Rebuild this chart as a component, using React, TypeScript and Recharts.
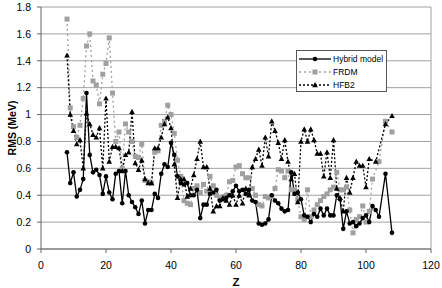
import React from "react";
import {
  LineChart,
  Line,
  XAxis,
  YAxis,
  CartesianGrid,
  ReferenceLine,
} from "recharts";

// Proton number Z
const zValues = [
  8, 9, 10, 11, 12, 13, 14, 15, 16, 17, 18, 19, 20, 21, 22, 23, 24, 25, 26, 27,
  28, 29, 30, 31, 32, 33, 34, 35, 36, 37, 38, 39, 40, 41, 42, 43, 44, 45, 46, 47,
  48, 49, 50, 51, 52, 53, 54, 55, 56, 57, 58, 59, 60, 61, 62, 63, 64, 65, 66, 67,
  68, 69, 70, 71, 72, 73, 74, 75, 76, 77, 78, 79, 80, 81, 82, 83, 84, 85, 86, 87,
  88, 89, 90, 91, 92, 93, 94, 95, 96, 97, 98, 99, 100, 101, 102, 103, 104, 105, 106, 107,
  108,
];

// RMS (MeV) per model
const hybridRms = [
  0.72, 0.49, 0.57, 0.39, 0.44, 0.52, 1.16, 0.7, 0.57, 0.59, 0.55, 0.41, 0.54, 0.42, 0.37, 0.56, 0.58, 0.34, 0.58, 0.4,
  0.35, 0.31, 0.26, 0.36, 0.19, 0.29, 0.29, 0.41, 0.38, 0.56, 0.63, 0.61, 0.79, 0.7, 0.54, 0.49, 0.48, 0.49, 0.4, 0.4,
  0.44, 0.23, 0.33, 0.33, 0.41, 0.42, 0.44, 0.36, 0.37, 0.38, 0.4, 0.43, 0.47, 0.43, 0.44, 0.41, 0.44, 0.36, 0.35, 0.19,
  0.18, 0.19, 0.22, 0.4, 0.36, 0.34, 0.3, 0.28, 0.29, 0.57, 0.41, 0.42, 0.37, 0.25, 0.24, 0.2, 0.26, 0.24, 0.3, 0.25,
  0.3, 0.25, 0.25, 0.4, 0.37, 0.15, 0.28, 0.19, 0.2, 0.17, 0.19, 0.23, 0.25, 0.2, 0.32, 0.29, 0.24, null, 0.56, null,
  0.12,
];

const frdmRms = [
  1.71, 1.05, 0.91, 0.83, 0.92, 1.12, 1.51, 1.6, 1.25, 1.22, 1.08, 1.3, 1.38, 1.57, 1.16, 0.8, 0.87, 0.6, 0.93, 0.87,
  0.8, 0.69, 0.68, 0.78, 0.51, 0.5, 0.49, 0.72, 0.73, 0.92, 0.95, 1.07, 1.0, 0.86, 0.66, 0.54, 0.36, 0.34, 0.33, 0.45,
  0.47, 0.42, 0.48, 0.43, 0.54, 0.47, 0.4, 0.38, 0.39, 0.4, 0.5, 0.51, 0.61, 0.62, 0.56, 0.53, 0.53, 0.45, 0.4, 0.33,
  0.32, 0.39, 0.38, 0.39, 0.45, 0.59, 0.58, 0.53, 0.58, 0.44, 0.44, 0.37, 0.24, 0.22, 0.44, 0.24, 0.29, 0.33, 0.36, 0.39,
  0.41, 0.44, 0.46, 0.57, 0.44, 0.44, 0.46, 0.29, 0.12, 0.22, 0.24, 0.32, 0.2, 0.28, 0.52, null, 0.65, null, 0.95, null,
  0.87,
];

const hfb2Rms = [
  1.44, 1.0, 0.88, 0.78, 0.81, 0.6, 1.01, 0.93, 0.85, 0.83, 0.9, 0.6, 1.12, 0.65, 0.76, 0.76, 0.75, 0.58, 0.7, 0.72,
  1.02, 0.64, 0.59, 0.66, 0.52, 0.49, 0.49, 0.75, 0.75, 0.83, 0.93, 0.98, 0.9, 0.63, 0.38, 0.52, 0.52, 0.39, 0.45, 0.55,
  0.67, 0.8, 0.61, 0.61, 0.45, 0.28, 0.32, 0.32, 0.38, 0.36, 0.33, 0.4, 0.33, 0.4, 0.34, 0.45, 0.4, 0.61, 0.67, 0.74,
  0.62, 0.83, 0.69, 0.95, 0.88, 0.79, 0.67, 0.81, 0.65, 0.52, 0.56, 0.35, 0.8, 0.89, 0.8, 0.89, 0.81, 0.71, 0.71, 0.54,
  0.72, 0.53, 0.81, 0.45, 0.38, 0.28, 0.53, 0.42, 0.53, 0.65, 0.62, 0.62, 0.46, 0.67, null, 0.65, null, null, 0.93, null,
  0.99,
];

const xTicks = [0, 20, 40, 60, 80, 100, 120];
const yTicks = [0, 0.2, 0.4, 0.6, 0.8, 1, 1.2, 1.4, 1.6, 1.8];

const data = zValues.map((z, i) => ({
  z,
  hybrid: hybridRms[i],
  frdm: frdmRms[i],
  hfb2: hfb2Rms[i],
}));

const FONT = "'Liberation Sans', Arial, sans-serif";
const GRAY = "#a0a0a0";

// marker shapes
const circleDot = (props: any) => {
  const { cx, cy, index } = props;
  if (cx == null || cy == null) return <g key={`h-${index}`} />;
  return <circle key={`h-${index}`} cx={cx} cy={cy} r={2.3} fill="#000" />;
};

const squareDot = (props: any) => {
  const { cx, cy, index } = props;
  if (cx == null || cy == null) return <g key={`f-${index}`} />;
  return <rect key={`f-${index}`} x={cx - 2.5} y={cy - 2.5} width={5} height={5} fill={GRAY} />;
};

const triangleDot = (props: any) => {
  const { cx, cy, index } = props;
  if (cx == null || cy == null) return <g key={`t-${index}`} />;
  return (
    <polygon
      key={`t-${index}`}
      points={`${cx},${cy - 3} ${cx - 2.8},${cy + 2.2} ${cx + 2.8},${cy + 2.2}`}
      fill="#000"
    />
  );
};

const legendRows = [
  { key: "hybrid", label: "Hybrid model", color: "#000", dash: undefined, shape: "circle" },
  { key: "frdm", label: "FRDM", color: GRAY, dash: "2 3", shape: "square" },
  { key: "hfb2", label: "HFB2", color: "#000", dash: "2 2", shape: "triangle" },
];

const ChartLegend = () => (
  <div
    style={{
      position: "absolute",
      left: 296,
      top: 50,
      background: "#fff",
      border: "1px solid #555",
      width: 91,
      height: 42,
      boxSizing: "border-box",
      paddingTop: 1,
      fontFamily: FONT,
      fontSize: 8.5,
    }}
  >
    {legendRows.map((r) => (
      <div key={r.key} style={{ display: "flex", alignItems: "center", height: 13, whiteSpace: "nowrap" }}>
        <svg width={36} height={12} style={{ display: "block", flex: "none" }}>
          <line x1={2} y1={6} x2={34} y2={6} stroke={r.color} strokeWidth={1.3} strokeDasharray={r.dash} />
          {r.shape === "circle" && <circle cx={18} cy={6} r={2.3} fill="#000" />}
          {r.shape === "square" && <rect x={15.5} y={3.5} width={5} height={5} fill={GRAY} />}
          {r.shape === "triangle" && <polygon points="18,3 15.2,8.2 20.8,8.2" fill="#000" />}
        </svg>
        <span style={{ color: "#000", lineHeight: "12px" }}>{r.label}</span>
      </div>
    ))}
  </div>
);

export default function App() {
  return (
    <div style={{ position: "absolute", left: 0, top: 0, width: 442, height: 288, background: "#fff" }}>
      <LineChart
        width={442}
        height={288}
        data={data}
        margin={{ top: 7, right: 11, left: 0, bottom: 0 }}
      >
        <CartesianGrid vertical={false} stroke={GRAY} strokeWidth={1} />
        <ReferenceLine x={120} stroke={GRAY} />
        <XAxis
          dataKey="z"
          type="number"
          domain={[0, 120]}
          ticks={xTicks}
          height={39}
          axisLine={{ stroke: "#666" }}
          tickLine={{ stroke: "#666" }}
          tickSize={4}
          tickMargin={9}
          tick={{ fill: "#000", fontSize: 10.5, fontFamily: FONT }}
          label={{
            value: "Z",
            position: "insideBottom",
            offset: 2,
            style: { fill: "#000", fontSize: 11.5, fontWeight: "bold", fontFamily: FONT },
          }}
        />
        <YAxis
          type="number"
          domain={[0, 1.8]}
          ticks={yTicks}
          width={41}
          axisLine={{ stroke: "#666" }}
          tickLine={{ stroke: "#666" }}
          tickSize={4}
          tickMargin={6}
          tick={{ fill: "#000", fontSize: 10.5, fontFamily: FONT }}
          label={{
            value: "RMS (MeV)",
            content: () => (
              <text
                x={16}
                y={128}
                transform="rotate(-90 16 128)"
                textAnchor="middle"
                fill="#000"
                fontSize={10.5}
                fontWeight="bold"
                fontFamily={FONT}
              >
                RMS (MeV)
              </text>
            ),
          }}
        />
        <Line
          dataKey="frdm"
          stroke={GRAY}
          strokeWidth={1.3}
          strokeDasharray="2 3"
          dot={squareDot}
          connectNulls
          isAnimationActive={false}
        />
        <Line
          dataKey="hfb2"
          stroke="#000"
          strokeWidth={1.3}
          strokeDasharray="2 2"
          dot={triangleDot}
          connectNulls
          isAnimationActive={false}
        />
        <Line
          dataKey="hybrid"
          stroke="#000"
          strokeWidth={1.3}
          dot={circleDot}
          connectNulls
          isAnimationActive={false}
        />
      </LineChart>
      <ChartLegend />
    </div>
  );
}
